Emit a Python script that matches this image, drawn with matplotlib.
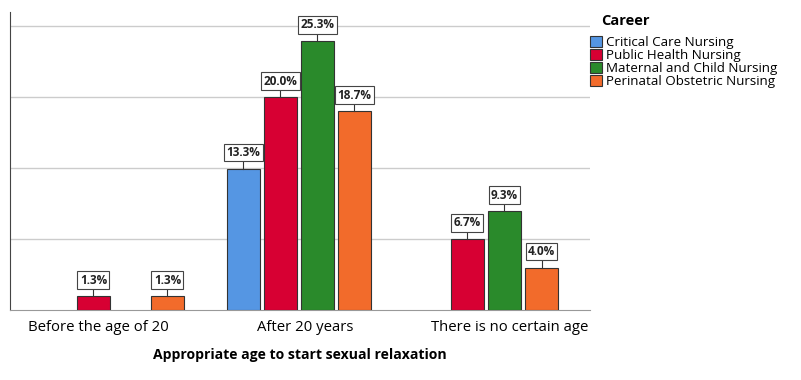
import numpy as np
import matplotlib.pyplot as plt
import matplotlib.transforms as mtransforms
from matplotlib.patches import Patch

plt.rcParams['font.family'] = ['Open Sans', 'DejaVu Sans']

categories = ['Before the age of 20', 'After 20 years', 'There is no certain age']
careers = ['Critical Care Nursing', 'Public Health Nursing',
           'Maternal and Child Nursing', 'Perinatal Obstetric Nursing']
# percent values per career (None = no bar)
critical = [None, 13.3, None]
public = [1.3, 20.0, 6.7]
maternal = [None, 25.3, 9.3]
perinatal = [1.3, 18.7, 4.0]
colors = ['#5596e3', '#d70033', '#2a8a2b', '#f26b2b']

series = [critical, public, maternal, perinatal]

fig = plt.figure(figsize=(8.01, 3.8), dpi=100)
ax = fig.add_axes([0.0125, 0.184, 0.724, 0.784])

x = np.arange(len(categories))
width = 0.176
step = 0.198

for i, (vals, col) in enumerate(zip(series, colors)):
    off = (i - 1.5) * step
    for j, v in enumerate(vals):
        if v is None:
            continue
        ax.bar(x[j] + off, v, width, color=col, edgecolor='#333333', linewidth=0.8, zorder=3)
        # leader line and boxed label
        ax.plot([x[j] + off, x[j] + off], [v, v + 0.7], color='#333333', lw=0.8, zorder=3)
        ax.annotate(f'{v:.1f}%', (x[j] + off, v), xytext=(0, 11.5), textcoords='offset points',
                    ha='center', va='center', fontsize=8.5, fontweight='bold', color='#222222',
                    bbox=dict(boxstyle='square,pad=0.2', fc='white', ec='#444444', lw=0.8),
                    zorder=4)

ax.set_xlim(-0.545, 2.556)
ax.set_ylim(0, 28)
ax.set_yticks([6.667, 13.333, 20, 26.667])
ax.yaxis.grid(True, color='#cccccc', lw=1, zorder=0)
ax.tick_params(axis='y', left=False, labelleft=False)
ax.tick_params(axis='x', bottom=False, labelsize=10.7, pad=4)
ax.set_xticks(x)
ax.set_xticklabels(categories)
# SPSS places the category labels slightly off the group centres
for lab, dx in zip(ax.get_xticklabels(), [-14, 6, 24]):
    lab.set_transform(lab.get_transform() +
                      mtransforms.ScaledTranslation(dx / 100, 0, fig.dpi_scale_trans))
for s in ['top', 'right']:
    ax.spines[s].set_visible(False)
ax.spines['left'].set_color('#444444')
ax.spines['bottom'].set_color('#999999')
ax.set_xlabel('Appropriate age to start sexual relaxation', fontsize=10.1,
              fontweight='bold', labelpad=9)

fig.text(0.751, 0.945, 'Career', fontsize=10.5, fontweight='bold', va='center')
handles = [Patch(facecolor=c, edgecolor='#333333', lw=0.8) for c in colors]
leg = fig.legend(handles, careers, loc='upper left', bbox_to_anchor=(0.733, 0.913),
                 frameon=False, fontsize=9.6, handlelength=0.9,
                 handleheight=0.9, handletextpad=0.3, labelspacing=0.0, borderpad=0.2,
                 borderaxespad=0)

fig.savefig('out.png', dpi=100)
